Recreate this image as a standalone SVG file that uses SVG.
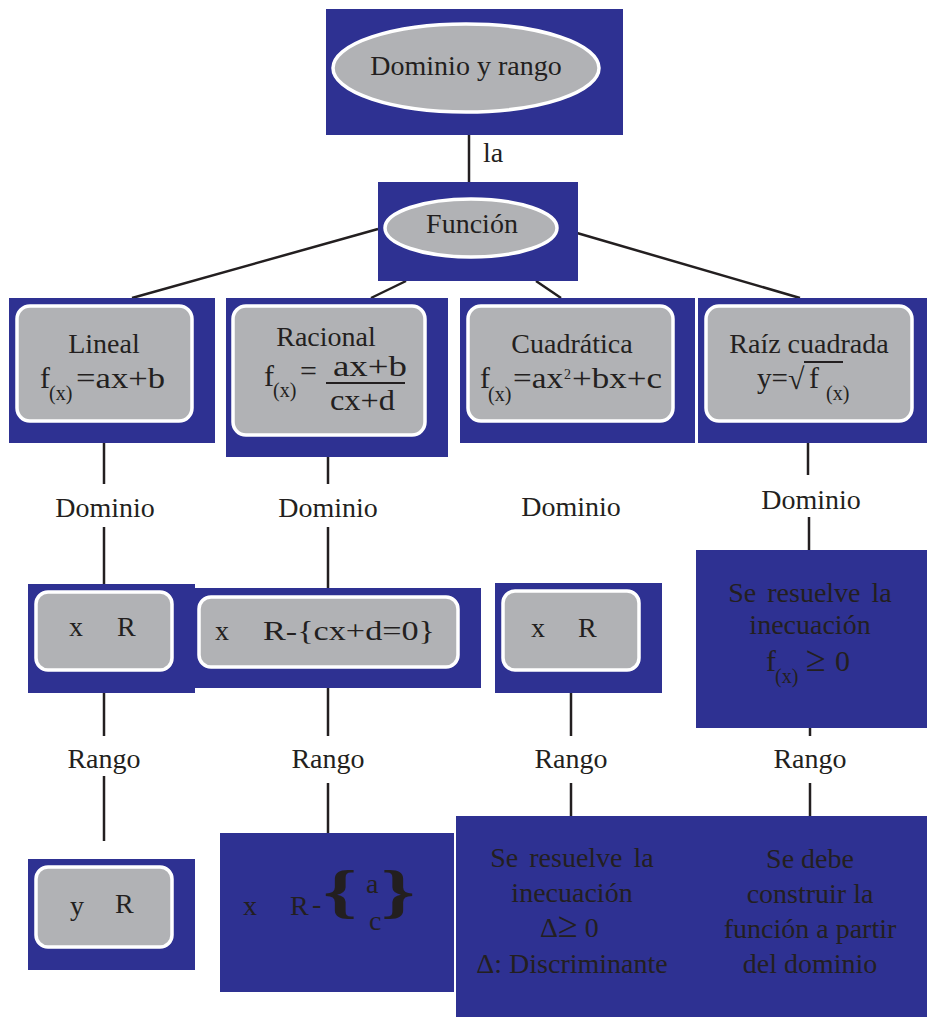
<svg xmlns="http://www.w3.org/2000/svg" width="927" height="1017" viewBox="0 0 927 1017">
<style>
.bx{fill:#2e3192}
.in{fill:#b1b2b5;stroke:#ffffff;stroke-width:3.5}
.t{font-family:"Liberation Serif","DejaVu Serif",serif;font-size:28px;fill:#231f20}
.c{text-anchor:middle}
.f{font-size:30px}
.s{font-size:20px}
.sm{font-size:28px}
.br{font-size:60px;font-weight:bold}
.ge{font-size:36px}
.ln{stroke:#231f20;stroke-width:2.5;fill:none}
</style>
<rect width="927" height="1017" fill="#ffffff"/>
<g id="connectors" class="ln">
<line x1="469" y1="135" x2="469" y2="182"/>
<line x1="378" y1="229" x2="132" y2="298"/>
<line x1="406" y1="281" x2="371" y2="298"/>
<line x1="536" y1="281" x2="561" y2="298"/>
<line x1="577" y1="233" x2="800" y2="298"/>
<line x1="104" y1="443" x2="104" y2="484"/>
<line x1="104" y1="527" x2="104" y2="584"/>
<line x1="328" y1="457" x2="328" y2="484"/>
<line x1="328" y1="527" x2="328" y2="588"/>
<line x1="808" y1="443" x2="808" y2="475"/>
<line x1="809" y1="517" x2="809" y2="550"/>
<line x1="104" y1="693" x2="104" y2="736"/>
<line x1="104" y1="776" x2="104" y2="841"/>
<line x1="328" y1="688" x2="328" y2="736"/>
<line x1="328" y1="783" x2="328" y2="833"/>
<line x1="571" y1="693" x2="571" y2="736"/>
<line x1="571" y1="783" x2="571" y2="816"/>
<line x1="810" y1="728" x2="810" y2="736"/>
<line x1="810" y1="783" x2="810" y2="816"/>
</g>
<g id="labels">
<text class="t" x="483" y="162">la</text>
<text class="t c" x="105" y="517">Dominio</text>
<text class="t c" x="328" y="517">Dominio</text>
<text class="t c" x="571" y="516">Dominio</text>
<text class="t c" x="811" y="509">Dominio</text>
<text class="t c" x="104" y="768">Rango</text>
<text class="t c" x="328" y="768">Rango</text>
<text class="t c" x="571" y="768">Rango</text>
<text class="t c" x="810" y="768">Rango</text>
</g>
<g id="n-dominio-rango">
<rect class="bx" x="326" y="9" width="297" height="126"/>
<ellipse class="in" cx="466" cy="68" rx="133" ry="44"/>
<text class="t c" x="466" y="75">Dominio y rango</text>
</g>
<g id="n-funcion">
<rect class="bx" x="378" y="182" width="200" height="99"/>
<ellipse class="in" cx="471" cy="228" rx="86" ry="29"/>
<text class="t c" x="472" y="233">Función</text>
</g>
<g id="n-lineal">
<rect class="bx" x="9" y="298" width="206" height="145"/>
<rect class="in" x="17" y="306" width="175" height="115" rx="13"/>
<text class="t c" x="104" y="353">Lineal</text>
<text class="t f" x="40" y="388">f</text>
<text class="t s" x="49" y="400">(x)</text>
<text class="t f" x="76" y="388" textLength="89" lengthAdjust="spacingAndGlyphs">=ax+b</text>
</g>
<g id="n-racional">
<rect class="bx" x="226" y="298" width="222" height="159"/>
<rect class="in" x="233" y="306" width="192" height="129" rx="13"/>
<text class="t c" x="326" y="346">Racional</text>
<text class="t f" x="264" y="386">f</text>
<text class="t s" x="273" y="397">(x)</text>
<text class="t f" x="300" y="381">=</text>
<text class="t f" x="333" y="376" textLength="74" lengthAdjust="spacingAndGlyphs">ax+b</text>
<line x1="326" y1="383" x2="405" y2="383" stroke="#231f20" stroke-width="2"/>
<text class="t f" x="330" y="410" textLength="65" lengthAdjust="spacingAndGlyphs">cx+d</text>
</g>
<g id="n-cuadratica">
<rect class="bx" x="460" y="298" width="235" height="145"/>
<rect class="in" x="468" y="306" width="205" height="115" rx="13"/>
<text class="t c" x="572" y="353">Cuadrática</text>
<text class="t f" x="480" y="388">f</text>
<text class="t s" x="488" y="401">(x)</text>
<text class="t f" x="513" y="388" textLength="50" lengthAdjust="spacingAndGlyphs">=ax</text>
<text class="t" x="564" y="379" style="font-size:14px">2</text>
<text class="t f" x="572" y="388" textLength="90" lengthAdjust="spacingAndGlyphs">+bx+c</text>
</g>
<g id="n-raiz">
<rect class="bx" x="698" y="298" width="229" height="145"/>
<rect class="in" x="706" y="306" width="206" height="115" rx="13"/>
<text class="t c" x="809" y="353">Raíz cuadrada</text>
<text class="t f" x="757" y="388" textLength="31" lengthAdjust="spacingAndGlyphs">y=</text>
<text class="t f" x="788" y="389">√</text>
<line x1="804" y1="362" x2="843" y2="362" stroke="#231f20" stroke-width="2"/>
<text class="t f" x="809" y="388">f</text>
<text class="t s" x="826" y="400">(x)</text>
</g>
<g id="n-dom-lineal">
<rect class="bx" x="28" y="584" width="167" height="109"/>
<rect class="in" x="36" y="592" width="136" height="78" rx="12"/>
<text class="t" x="69" y="636">x</text>
<text class="t" x="117" y="636">R</text>
</g>
<g id="n-dom-racional">
<rect class="bx" x="195" y="588" width="286" height="100"/>
<rect class="in" x="199" y="597" width="259" height="70" rx="12"/>
<text class="t" x="215" y="640">x</text>
<text class="t" x="263" y="640" textLength="172" lengthAdjust="spacingAndGlyphs">R-{cx+d=0}</text>
</g>
<g id="n-dom-cuadratica">
<rect class="bx" x="495" y="583" width="167" height="110"/>
<rect class="in" x="503" y="591" width="136" height="79" rx="12"/>
<text class="t" x="531" y="637">x</text>
<text class="t" x="578" y="637">R</text>
</g>
<g id="n-dom-raiz">
<rect class="bx" x="696" y="550" width="231" height="178"/>
<text class="t c" x="810" y="602" word-spacing="4">Se resuelve la</text>
<text class="t c" x="810" y="634">inecuación</text>
<text class="t f" x="766" y="671">f</text>
<text class="t s" x="775" y="683">(x)</text>
<text class="t ge" x="806" y="671">≥</text>
<text class="t f" x="835" y="671">0</text>
</g>
<g id="n-rango-lineal">
<rect class="bx" x="28" y="859" width="167" height="111"/>
<rect class="in" x="36" y="867" width="136" height="80" rx="12"/>
<text class="t" x="70" y="915">y</text>
<text class="t" x="115" y="913">R</text>
</g>
<g id="n-rango-racional">
<rect class="bx" x="220" y="833" width="234" height="159"/>
<text class="t" x="243" y="915">x</text>
<text class="t" x="290" y="915">R</text>
<text class="t" x="312" y="913">-</text>
<text class="t br" x="323" y="911" textLength="34" lengthAdjust="spacingAndGlyphs">{</text>
<text class="t sm" x="366" y="893">a</text>
<text class="t sm" x="369" y="930">c</text>
<text class="t br" x="381" y="911" textLength="34" lengthAdjust="spacingAndGlyphs">}</text>
</g>
<g id="n-rango-cuadratica">
<rect class="bx" x="456" y="816" width="236" height="201"/>
<text class="t c" x="572" y="867" word-spacing="4">Se resuelve la</text>
<text class="t c" x="572" y="902">inecuación</text>
<text class="t" x="540" y="937">Δ<tspan class="ge">≥</tspan> 0</text>
<text class="t c" x="572" y="973">Δ: Discriminante</text>
</g>
<g id="n-rango-raiz">
<rect class="bx" x="691" y="816" width="236" height="201"/>
<text class="t c" x="810" y="868">Se debe</text>
<text class="t c" x="810" y="903">construir la</text>
<text class="t c" x="810" y="938">función a partir</text>
<text class="t c" x="810" y="973">del dominio</text>
</g>
</svg>
